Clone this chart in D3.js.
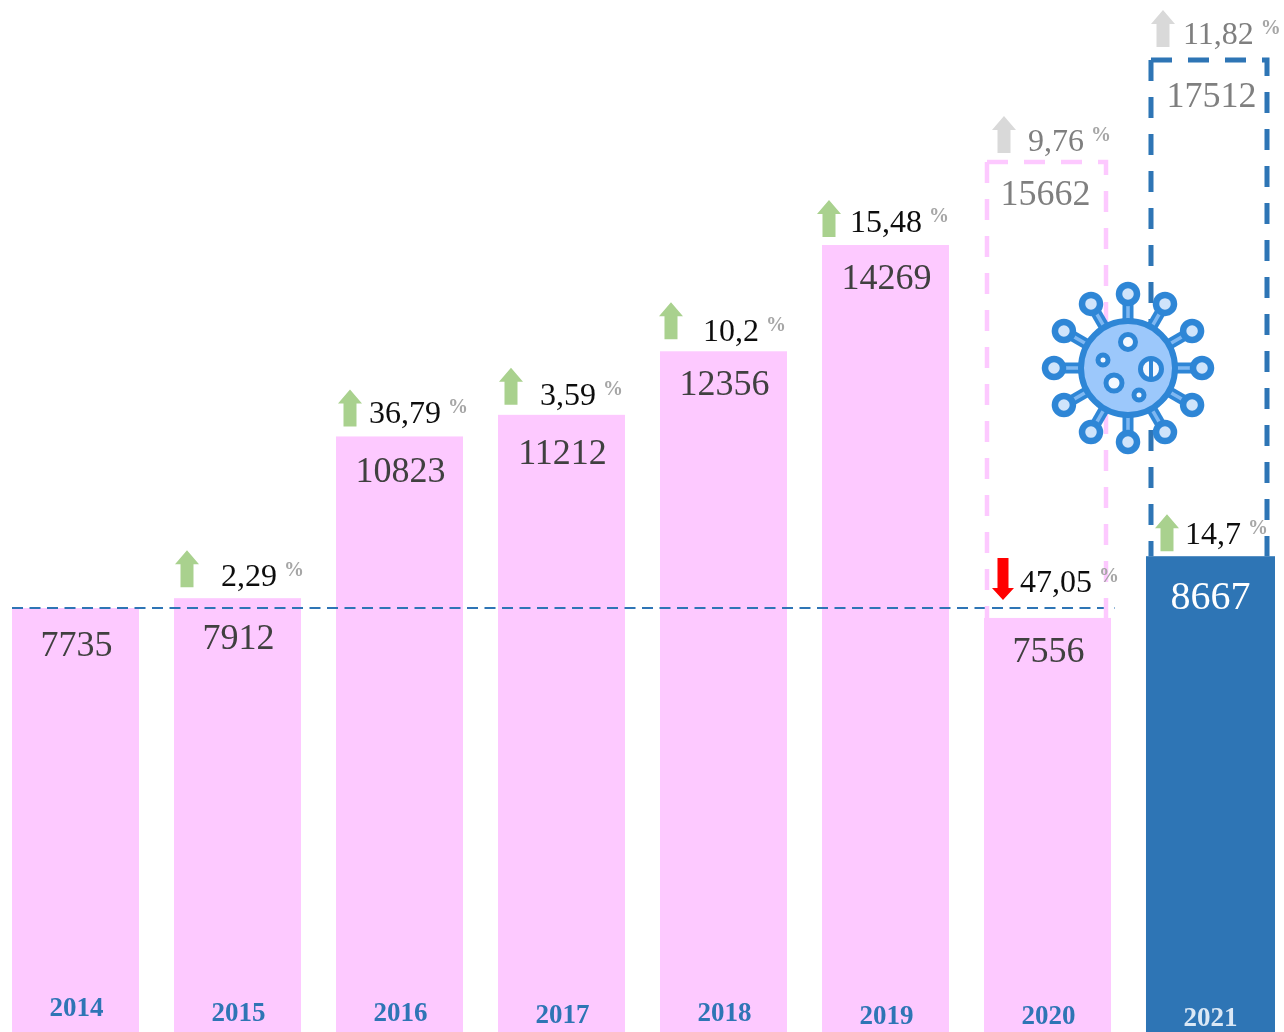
<!DOCTYPE html>
<html>
<head>
<meta charset="utf-8">
<script src="https://cdn.jsdelivr.net/npm/d3@7"></script>
<style>
  html, body { margin: 0; padding: 0; background: #fff; overflow: hidden; }
  svg { display: block; }
  text { font-family: "Liberation Serif", serif; }
</style>
</head>
<body>
<div id="chart"></div>
<script>
// Chart data
var years = ["2014", "2015", "2016", "2017", "2018", "2019", "2020", "2021"];
var actual = [7735, 7912, 10823, 11212, 12356, 14269, 7556, 8667];
var actualChange = [null, "2,29", "36,79", "3,59", "10,2", "15,48", "47,05", "14,7"];
var actualDirection = [null, "up", "up", "up", "up", "up", "down", "up"];
var projected = [null, null, null, null, null, null, 15662, 17512];
var projectedChange = [null, null, null, null, null, null, "9,76", "11,82"];

// Hand placement of the annotations, relative to each bar (x from bar left, y above bar top)
var actualNudge = [
  null,
  { arrowX: 13, arrowY: 11, textX: 47, textY: 12 },
  { arrowX: 14, arrowY: 10, textX: 33, textY: 13 },
  { arrowX: 13, arrowY: 10, textX: 42, textY: 10 },
  { arrowX: 11, arrowY: 12, textX: 43, textY: 10 },
  { arrowX: 7, arrowY: 8, textX: 28, textY: 13 },
  { arrowX: 19, arrowY: 18, textX: 36, textY: 26 },
  { arrowX: 21, arrowY: 5, textX: 39, textY: 12 }
];
var projectedNudge = {
  "2020": { arrowX: 20, arrowY: 9, textX: 44, textY: 11, valueX: -2, valueY: 43, left: 3, right: 5 },
  "2021": { arrowX: 17, arrowY: 13, textX: 37, textY: 16, valueX: 2, valueY: 47, left: 5, right: 6 }
};
var valueDrop = [48, 51, 46, 49, 44, 44, 44, 53];
var yearDrop = [-6, -1, -1, 1, -1, 2, 2, 4];

var svgWidth = 1284;
var svgHeight = 1032;

var pink = "#fdc9ff";
var blue = "#2e74b5";

var svg = d3.select("#chart")
    .append("svg")
    .attr("width", svgWidth)
    .attr("height", svgHeight);

// The source is a soft, upscaled image
svg.append("defs").append("filter")
    .attr("id", "soft")
    .attr("filterUnits", "userSpaceOnUse")
    .attr("x", 0).attr("y", 0)
    .attr("width", svgWidth).attr("height", svgHeight)
    .append("feGaussianBlur")
    .attr("stdDeviation", 0.7);

var chartGroup = svg.append("g").attr("filter", "url(#soft)");

var xScale = d3.scaleBand()
    .domain(years)
    .range([12, 1273])
    .paddingInner(0.216);

// The bars in the picture are not quite proportional, so the scale is piecewise
var yScale = d3.scaleLinear()
    .domain([0, 7735, 14269, 15662, 17512])
    .range([1038, 608, 245, 162, 60]);

// Bars
chartGroup.selectAll(".bar")
    .data(years)
    .enter()
    .append("rect")
    .attr("class", "bar")
    .attr("x", d => xScale(d))
    .attr("y", (d, i) => yScale(actual[i]))
    .attr("width", d => xScale.bandwidth() + (d === "2021" ? 2 : 0))
    .attr("height", (d, i) => yScale(0) - yScale(actual[i]))
    .attr("fill", d => d === "2021" ? blue : pink);

// Dashed reference line at the 2014 level
chartGroup.append("line")
    .attr("x1", xScale("2014"))
    .attr("x2", 1115)
    .attr("y1", yScale(actual[0]))
    .attr("y2", yScale(actual[0]))
    .attr("stroke", blue)
    .attr("stroke-width", 2.2)
    .attr("stroke-dasharray", "11 6.5");

// Dashed outlines of the projected values
years.forEach(function(year, i) {
    if (projected[i] === null) return;
    var n = projectedNudge[year];
    var left = xScale(year) + n.left;
    var right = xScale(year) + xScale.bandwidth() - n.right;
    var top = yScale(projected[i]);
    var bottom = yScale(actual[i]);

    var leftSide = d3.path();
    leftSide.moveTo(left, top);
    leftSide.lineTo(left, bottom);

    var rest = d3.path();
    rest.moveTo(left, top);
    rest.lineTo(right, top);
    rest.lineTo(right, bottom);

    chartGroup.selectAll(".outline" + year)
        .data([leftSide, rest])
        .enter()
        .append("path")
        .attr("d", d => d.toString())
        .attr("fill", "none")
        .attr("stroke", year === "2021" ? blue : pink)
        .attr("stroke-width", year === "2021" ? 5 : 4.5)
        .attr("stroke-dasharray", "21 16");

    chartGroup.append("text")
        .attr("x", xScale(year) + xScale.bandwidth() / 2 + n.valueX)
        .attr("y", top + n.valueY)
        .attr("text-anchor", "middle")
        .attr("font-size", "36px")
        .attr("fill", "#7f7f7f")
        .text(projected[i]);
});

// Value labels
chartGroup.selectAll(".value")
    .data(actual)
    .enter()
    .append("text")
    .attr("class", "value")
    .attr("x", (d, i) => xScale(years[i]) + xScale.bandwidth() / 2 + 1)
    .attr("y", (d, i) => yScale(d) + valueDrop[i])
    .attr("text-anchor", "middle")
    .attr("font-size", (d, i) => years[i] === "2021" ? "40px" : "36px")
    .attr("fill", (d, i) => years[i] === "2021" ? "#ffffff" : "#404040")
    .text(d => d);

// Arrow with its tip at tipY and its tail at tailY
function arrowPath(cx, tipY, tailY, headW, shaftW, headH) {
    var dir = tailY > tipY ? 1 : -1;
    var p = d3.path();
    p.moveTo(cx, tipY);
    p.lineTo(cx + headW / 2, tipY + dir * headH);
    p.lineTo(cx + shaftW / 2, tipY + dir * headH);
    p.lineTo(cx + shaftW / 2, tailY);
    p.lineTo(cx - shaftW / 2, tailY);
    p.lineTo(cx - shaftW / 2, tipY + dir * headH);
    p.lineTo(cx - headW / 2, tipY + dir * headH);
    p.closePath();
    return p.toString();
}

function addChange(year, value, change, n, direction, arrowColor, textColor) {
    var barLeft = xScale(year);
    var barTop = yScale(value);
    var bottom = barTop - n.arrowY;
    var d = direction === "down"
        ? arrowPath(barLeft + n.arrowX, bottom, bottom - 42, 22, 11, 12)
        : arrowPath(barLeft + n.arrowX, bottom - 37, bottom, 24, 13, 14);

    chartGroup.append("path")
        .attr("d", d)
        .attr("fill", arrowColor);

    var label = chartGroup.append("text")
        .attr("x", barLeft + n.textX)
        .attr("y", barTop - n.textY)
        .attr("font-size", "32px")
        .attr("fill", textColor)
        .text(change);

    label.append("tspan")
        .attr("dx", 7)
        .attr("dy", -10)
        .attr("font-size", "20px")
        .attr("font-weight", "bold")
        .attr("fill", "#a6a6a6")
        .text("%");
}

years.forEach(function(year, i) {
    if (actualChange[i] !== null) {
        addChange(year, actual[i], actualChange[i], actualNudge[i], actualDirection[i],
            actualDirection[i] === "down" ? "#ff0000" : "#a9d18e", "#111111");
    }
    if (projected[i] !== null) {
        addChange(year, projected[i], projectedChange[i], projectedNudge[year], "up",
            "#d9d9d9", "#7f7f7f");
    }
});

// Year labels sit inside the bars
var bottomAxis = d3.axisBottom(xScale).tickSize(0).tickPadding(0);
var axisGroup = chartGroup.append("g")
    .attr("transform", "translate(0, 1022)")
    .call(bottomAxis);
axisGroup.select(".domain").remove();
axisGroup.selectAll("text")
    .attr("y", (d, i) => yearDrop[i])
    .attr("dy", 0)
    .attr("x", 1)
    .attr("font-family", "Liberation Serif")
    .attr("font-size", "27px")
    .attr("font-weight", "bold")
    .attr("fill", d => d === "2021" ? "#dbe8f5" : blue);

// Virus icon
var virusGroup = chartGroup.append("g")
    .attr("transform", "translate(1128, 368)");
var virusDark = "#2f86d6";
var virusLight = "#9cc8fb";
var spikes = d3.range(12).map(d => d * Math.PI / 6);

virusGroup.selectAll(".spike")
    .data(spikes)
    .enter()
    .append("line")
    .attr("x2", d => 74 * Math.cos(d))
    .attr("y2", d => 74 * Math.sin(d))
    .attr("stroke", virusDark)
    .attr("stroke-width", 11);

virusGroup.selectAll(".spikeCore")
    .data(spikes)
    .enter()
    .append("line")
    .attr("x2", d => 66 * Math.cos(d))
    .attr("y2", d => 66 * Math.sin(d))
    .attr("stroke", "#7fb8f2")
    .attr("stroke-width", 3.5);

virusGroup.selectAll(".knob")
    .data(spikes)
    .enter()
    .append("circle")
    .attr("cx", d => 74 * Math.cos(d))
    .attr("cy", d => 74 * Math.sin(d))
    .attr("r", 9)
    .attr("fill", "#cfe4fb")
    .attr("stroke", virusDark)
    .attr("stroke-width", 6.5);

virusGroup.append("circle")
    .attr("r", 47)
    .attr("fill", virusLight)
    .attr("stroke", virusDark)
    .attr("stroke-width", 6);

var spots = [[0, -26, 7.5], [-25, -8, 5], [-14, 15, 8], [11, 27, 5], [23, 1, 10.5]];
virusGroup.selectAll(".spot")
    .data(spots)
    .enter()
    .append("circle")
    .attr("cx", d => d[0])
    .attr("cy", d => d[1])
    .attr("r", d => d[2])
    .attr("fill", "#f4f9ff")
    .attr("stroke", virusDark)
    .attr("stroke-width", 5);

virusGroup.append("line")
    .attr("x1", 23).attr("x2", 23)
    .attr("y1", -9).attr("y2", 11)
    .attr("stroke", virusDark)
    .attr("stroke-width", 4);
</script>
</body>
</html>
